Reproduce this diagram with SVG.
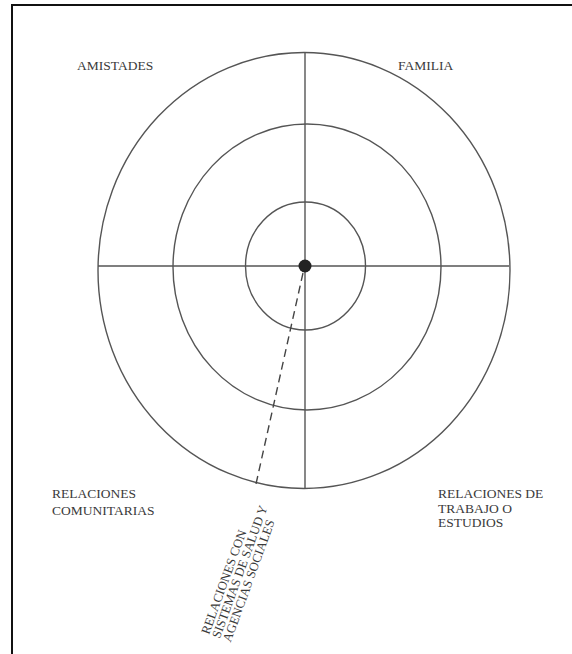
<svg xmlns="http://www.w3.org/2000/svg" width="572" height="654" viewBox="0 0 572 654">
<style>
.ring{fill:none;stroke:#555;stroke-width:1.4}
.axis{stroke:#555;stroke-width:1.4}
.lbl{font-family:"Liberation Serif","Times New Roman",serif;font-size:13.5px;fill:#3a3a3a}
.rot{font-family:"Liberation Serif","Times New Roman",serif;font-size:12.8px;fill:#3a3a3a}
.dash{stroke:#444;stroke-width:1.4;stroke-dasharray:8 5;fill:none}
</style>
<rect width="572" height="654" fill="#fff"/>
<path d="M12,654 V5 H572" fill="none" stroke="#111" stroke-width="2"/>
<g id="rings">
<ellipse id="outer" class="ring" cx="304" cy="270.5" rx="206" ry="218"/>
<ellipse id="middle" class="ring" cx="307" cy="267" rx="134" ry="143"/>
<ellipse id="inner" class="ring" cx="305.5" cy="266" rx="60" ry="64"/>
</g>
<g id="connectors">
<line class="axis" x1="98" y1="266" x2="509" y2="266"/>
<line class="axis" x1="305" y1="53" x2="305" y2="489"/>
<line class="dash" x1="303" y1="273" x2="256" y2="484"/>
</g>
<g id="center"><circle cx="305" cy="266" r="6.5" fill="#222"/></g>
<g id="amistades"><text class="lbl" x="77" y="70">AMISTADES</text></g>
<g id="familia"><text class="lbl" x="398" y="70">FAMILIA</text></g>
<g id="comunitarias"><text class="lbl" x="52" y="498">RELACIONES</text><text class="lbl" x="52" y="515">COMUNITARIAS</text></g>
<g id="trabajo"><text class="lbl" x="438" y="498">RELACIONES DE</text><text class="lbl" x="438" y="512.5">TRABAJO O</text><text class="lbl" x="438" y="527">ESTUDIOS</text></g>
<g id="salud" transform="translate(209,635) rotate(-70)">
<text class="rot" x="0" y="0">RELACIONES CON</text>
<text class="rot" x="0" y="11.5">SISTEMAS DE SALUD Y</text>
<text class="rot" x="0" y="23">AGENCIAS SOCIALES</text>
</g>
</svg>
